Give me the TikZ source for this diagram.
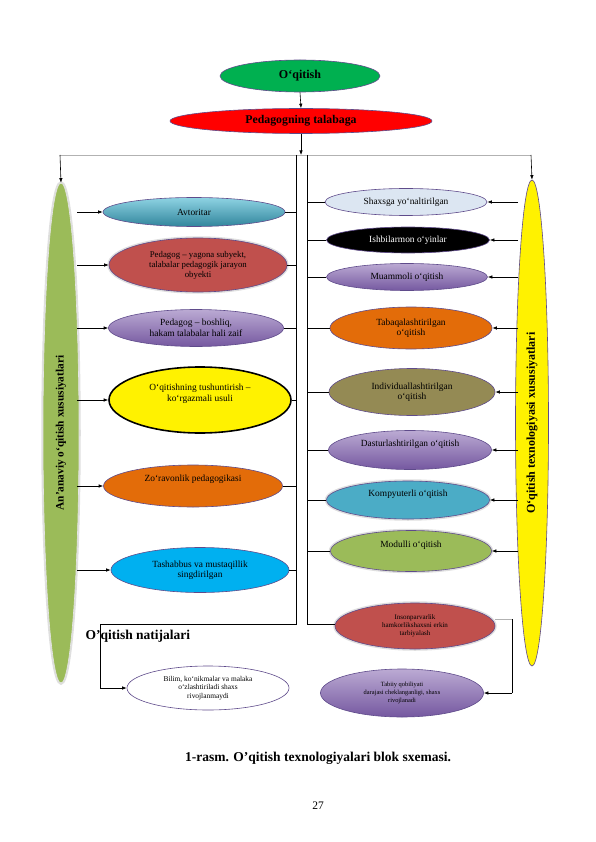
\documentclass[tikz,border=0pt]{standalone}
\usepackage{fontspec}
\setmainfont{Liberation Serif}
\usetikzlibrary{shapes.geometric,arrows.meta}
\definecolor{pbord}{HTML}{5F4B8B}
\definecolor{cgreen}{HTML}{00B050}
\definecolor{cteal}{HTML}{4BACC6}
\definecolor{ctealD}{HTML}{31859C}
\definecolor{ctealL}{HTML}{8ED3E3}
\definecolor{cred}{HTML}{C0504D}
\definecolor{cpurL}{HTML}{BBAAD3}
\definecolor{cpurD}{HTML}{7558A0}
\definecolor{corange}{HTML}{E36C09}
\definecolor{csky}{HTML}{00B0F0}
\definecolor{cpale}{HTML}{DCE6F2}
\definecolor{colive}{HTML}{948A54}
\definecolor{cleaf}{HTML}{9BBB59}
\tikzset{
  ell/.style={ellipse,inner sep=0pt,draw=pbord,line width=0.6pt,align=center,font=\fontsize{9.4}{10.5}\selectfont},
  halo/.style={preaction={draw=gray!25,line width=3.5pt}},
  purgrad/.style={top color=cpurL,bottom color=cpurD},
  arr/.style={-{Latex[length=4.5pt,width=3.5pt]},line width=0.6pt},
  ln/.style={line width=0.6pt},
  lng/.style={line width=0.8pt,draw=gray!60},
}
\begin{document}
\begin{tikzpicture}[x=1pt,y=-1pt]
\useasboundingbox (0,0) rectangle (595,842);
% top
\node[ell,fill=cgreen,minimum width=160pt,minimum height=32pt,font=\fontsize{12}{13}\selectfont\bfseries] (oq) at (300,76) {O`qitish};
\node[ell,fill=red,minimum width=262pt,minimum height=25pt,font=\fontsize{11.8}{13}\selectfont\bfseries] (ped) at (301,121) {Pedagogning talabaga};
\coordinate (t0) at (301,155);
\coordinate (tl) at (60,155);
\coordinate (tr) at (531,155);
\coordinate (L) at (296.5,155);
\coordinate (R) at (307.5,155);
% side ellipses
\node[ell,halo,draw=gray!20,fill=cleaf,minimum width=500pt,minimum height=36pt,rotate=90,font=\fontsize{11.3}{12}\selectfont\bfseries] (ga) at (61,433) {An’anaviy o‘qitish xususiyatlari};
\node[ell,fill=yellow,minimum width=486pt,minimum height=33pt,rotate=90,font=\fontsize{12}{13}\selectfont\bfseries] (yb) at (532,423) {O‘qitish texnologiyasi xususiyatlari};
\draw[arr] (oq.south) -- (ped.north);
\draw[arr] (ped.south) -- (t0);
\draw[lng] (tl) -- (tr);
\draw[arr] (tl) -- (ga.east);
\draw[arr] (tr) -- (yb.east);
% left column
\node[ell,top color=ctealL,bottom color=ctealD,minimum width=182pt,minimum height=29pt] (a1) at (194,212) {Avtoritar};
\node[ell,halo,fill=cred,minimum width=178pt,minimum height=54pt,font=\fontsize{8.8}{10}\selectfont] (a2) at (198,265) {Pedagog – yagona subyekt,\\talabalar pedagogik jarayon\\obyekti};
\node[ell,purgrad,minimum width=175pt,minimum height=37pt] (a3) at (196,328) {Pedagog – boshliq,\\hakam talabalar hali zaif};
\node[ell,fill=yellow,draw=black,line width=1.6pt,minimum width=182pt,minimum height=66pt] (a4) at (200,400) {O‘qitishning tushuntirish –\\ko‘rgazmali usuli\\[4pt]};
\node[ell,fill=corange,minimum width=179pt,minimum height=42pt] (a5) at (193,486) {Zo‘ravonlik pedagogikasi\\[6pt]};
\node[ell,fill=csky,minimum width=178pt,minimum height=45pt] (a6) at (200,570) {Tashabbus va mustaqillik\\singdirilgan};
\coordinate (gx) at (77,0);
\foreach \n in {a1,a2,a3,a4,a5,a6}{
  \draw[arr] (\n.west -| gx) -- (\n.west);
  \draw[ln] (\n.east) -- (\n.east -| L);
}
% right column
\node[ell,fill=cpale,minimum width=162pt,minimum height=27pt] (b1) at (406,202) {Shaxsga yo‘naltirilgan};
\node[ell,fill=black,text=white,minimum width=163pt,minimum height=26pt] (b2) at (408,240) {Ishbilarmon o‘yinlar};
\node[ell,purgrad,minimum width=161pt,minimum height=27pt] (b3) at (407,277) {Muammoli o‘qitish};
\node[ell,fill=corange,minimum width=162pt,minimum height=42pt] (b4) at (411,328) {Tabaqalashtirilgan\\o‘qitish};
\node[ell,fill=colive,minimum width=166pt,minimum height=47pt] (b5) at (412,392) {Individuallashtirilgan\\o‘qitish};
\node[ell,purgrad,minimum width=163pt,minimum height=39pt] (b6) at (410,450) {Dasturlashtirilgan o‘qitish\\[4pt]};
\node[ell,halo,fill=cteal,minimum width=163pt,minimum height=38pt] (b7) at (408,500) {Kompyuterli o‘qitish\\[4pt]};
\node[ell,halo,fill=cleaf,minimum width=161pt,minimum height=41pt] (b8) at (411,551) {Modulli o‘qitish\\[4pt]};
\coordinate (yx) at (518,0);
\foreach \n in {b1,b2,b3,b4,b5,b6,b7,b8}{
  \draw[arr] (\n.east -| yx) -- (\n.east);
  \draw[ln] (\n.west) -- (\n.west -| R);
}
\node[ell,halo,fill=cred,minimum width=160pt,minimum height=46pt,font=\fontsize{7}{8.2}\selectfont] (b9) at (415,626) {Insonparvarlik\\hamkorlikshaxsni erkin\\tarbiyalash};
\node[ell,purgrad,minimum width=163pt,minimum height=48pt,font=\fontsize{6.4}{7.6}\selectfont] (b10) at (402,693) {Tabiiy qobiliyati\\darajasi cheklanganligi, shaxs\\rivojlanadi};
\node[ell,fill=white,minimum width=162pt,minimum height=44pt,font=\fontsize{7.4}{8.6}\selectfont] (c1) at (208,688) {Bilim, ko‘nikmalar va malaka\\o‘zlashtiriladi shaxs\\rivojlanmaydi};
% main verticals
\coordinate (Lb) at (296.5,624);
\coordinate (Rb) at (307.5,624);
\coordinate (Lc) at (100,624);
\coordinate (Ld) at (100,688);
\coordinate (Re) at (512,619);
\coordinate (Rf) at (512,693);
\draw[ln] (L) -- (Lb) -- (Lc) -- (Ld);
\draw[arr] (Ld) -- (c1.west);
\draw[ln] (R) -- (Rb) -- (Rb -| b9.west);
\draw[lng] (b9.east |- Re) -- (Re);
\draw[ln] (Re) -- (Rf);
\draw[arr] (Rf) -- (b10.east);
\node[anchor=west,font=\fontsize{13.5}{14}\selectfont\bfseries] (res) at (82,636) {O’qitish natijalari};
\node[font=\fontsize{13.5}{14}\selectfont\bfseries] (cap) at (318,758) {1-rasm. O’qitish texnologiyalari blok sxemasi.};
\node[font=\fontsize{11.5}{12}\selectfont] (pg) at (318,806) {27};
\end{tikzpicture}
\end{document}
